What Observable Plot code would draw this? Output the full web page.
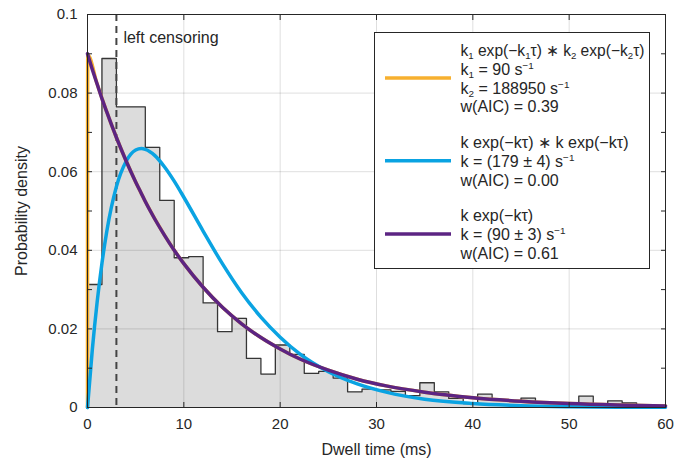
<!DOCTYPE html>
<html><head><meta charset="utf-8">
<script src="https://cdn.jsdelivr.net/npm/d3@7"></script>
<script src="https://cdn.jsdelivr.net/npm/@observablehq/plot@0.6"></script>
<style>body{margin:0;background:#fff;}</style>
</head><body><div id="chart"></div>
<script>
// ---- data ----
const binStart = [0,1.5,3,4.5,6,7.5,9,10.5,12,13.5,15,16.5,18,19.5,21,22.5,24,25.5,27,28.5,
                  30,31.5,33,34.5,36,37.5,39,40.5,42,43.5,45,46.5,48,49.5,51,52.5,54,55.5,57,58.5];
const binEnd = 60;
const binDensity = [0.0313,0.0888,0.0765,0.0765,0.0662,0.0527,0.0381,0.0384,0.0266,0.0193,
                    0.0227,0.0125,0.0085,0.0159,0.0135,0.0087,0.0092,0.0075,0.0040,0.0047,
                    0.0045,0.0041,0.0030,0.0063,0.0040,0.0023,0.0010,0.0034,0.0018,0.0016,
                    0.0024,0.0013,0.0010,0.0008,0.0029,0.0010,0.0017,0.0012,0.0006,0.0005];

const tCurve = [0,0.5,1,1.5,2,3,4,5,5.6,6,7,8,9,10,12,14,16,18,20,22,25,28,31,35,40,45,50,55,60];
const purpleDensity = [0.0900,0.0860,0.0823,0.0786,0.0752,0.0687,0.0628,0.0574,0.0544,0.0524,0.0479,0.0438,0.0400,0.0366,
                       0.0306,0.0255,0.0213,0.0178,0.0149,0.0124,0.0095,0.0072,0.0055,0.0039,0.0025,0.0016,0.0010,0.00064,0.00041];
const blueDensity = [0,0.0147,0.0268,0.0367,0.0448,0.0562,0.0626,0.0655,0.0659,0.0657,0.0641,0.0612,0.0576,0.0535,
                     0.0449,0.0366,0.0292,0.0230,0.0179,0.0137,0.0091,0.0060,0.0039,0.0021,0.0010,0.00046,0.00021,0.00009,0.00004];
const tOrange = [0,0.005,0.01,0.02,0.04,1,2,3,4,6,8,10,12,14,16,18,20,22,25,28,31,35,40,45,50,55,60];
const orangeDensity = [0,0.055,0.0765,0.088,0.0897,0.0823,0.0752,0.0687,0.0628,0.0524,0.0438,0.0366,0.0306,0.0255,
                       0.0213,0.0178,0.0149,0.0124,0.0095,0.0072,0.0055,0.0039,0.0025,0.0016,0.0010,0.00064,0.00041];

const censorTime = 3;
const censorLabel = "left censoring";
const xTicks = [0,10,20,30,40,50,60];
const yTicks = [0,0.02,0.04,0.06,0.08,0.1];
const yTickLabels = ["0","0.02","0.04","0.06","0.08","0.1"];
const xLabel = "Dwell time (ms)";
const yLabel = "Probability density";

const seriesColors = ["#f7b02f","#0aa3e2","#5c2483"];
const legendText = [
  ["k_{1} exp(\u2212k_{1}\u03c4) \u2217 k_{2} exp(\u2212k_{2}\u03c4)", "k_{1} = 90 s^{\u22121}", "k_{2} = 188950 s^{\u22121}", "w(AIC) = 0.39"],
  ["k exp(\u2212k\u03c4) \u2217 k exp(\u2212k\u03c4)", "k = (179 \u00b1 4) s^{\u22121}", "w(AIC) = 0.00"],
  ["k exp(\u2212k\u03c4)", "k = (90 \u00b1 3) s^{\u22121}", "w(AIC) = 0.61"]
];

// ---- derived tables ----
const histPts = binStart.map((x, i) => ({x, y: binDensity[i]}));
histPts.push({x: binEnd, y: binDensity[binDensity.length - 1]});
const outlinePts = [{x: binStart[0], y: 0}, ...histPts, {x: binEnd, y: 0}];
const purple = tCurve.map((t, i) => ({t, y: purpleDensity[i]}));
const blue = tCurve.map((t, i) => ({t, y: blueDensity[i]}));
const orange = tOrange.map((t, i) => ({t, y: orangeDensity[i]}));

const ink = "#262626";
const font = "'Liberation Sans', Arial, Helvetica, sans-serif";

const plot = Plot.plot({
  width: 687, height: 460,
  marginLeft: 87, marginRight: 22, marginTop: 14, marginBottom: 53,
  style: {fontFamily: font, fontSize: "15px", color: ink, background: "#fff", overflow: "visible"},
  x: {domain: [0, 60], ticks: xTicks},
  y: {domain: [0, 0.1], ticks: yTicks},
  marks: [
    Plot.areaY(histPts, {x: "x", y: "y", curve: "step-after", fill: "#dcdcdc"}),
    Plot.gridX({ticks: xTicks, stroke: "#000", strokeOpacity: 0.13}),
    Plot.gridY({ticks: yTicks, stroke: "#000", strokeOpacity: 0.13}),
    Plot.lineY(outlinePts, {x: "x", y: "y", curve: "step-after", stroke: "#363636", strokeWidth: 1.3}),
    Plot.ruleX([censorTime], {stroke: "#444", strokeWidth: 2, strokeDasharray: "7,5"}),
    Plot.line(orange, {x: "t", y: "y", curve: "monotone-x", stroke: seriesColors[0], strokeWidth: 3.5}),
    Plot.line(blue, {x: "t", y: "y", curve: "monotone-x", stroke: seriesColors[1], strokeWidth: 3.5}),
    Plot.line(purple, {x: "t", y: "y", curve: "monotone-x", stroke: seriesColors[2], strokeWidth: 3.5}),
    Plot.frame({stroke: ink, strokeWidth: 1}),
    // inward ticks on all four sides
    Plot.axisX({anchor: "bottom", tickSize: 5, dy: -5, fill: "none", stroke: ink, label: null}),
    Plot.axisX({anchor: "top", tickSize: 5, dy: 5, fill: "none", stroke: ink, label: null}),
    Plot.axisY({anchor: "left", tickSize: 5, dx: 5, fill: "none", stroke: ink, label: null}),
    Plot.axisY({anchor: "right", tickSize: 5, dx: -5, fill: "none", stroke: ink, label: null}),
    // tick labels
    Plot.axisX({anchor: "bottom", tickSize: 0, tickPadding: 11, fill: ink, label: null, fontSize: 15}),
    Plot.axisY({anchor: "left", tickSize: 0, tickPadding: 10, fill: ink, label: null, fontSize: 15,
                tickFormat: d => yTickLabels[yTicks.indexOf(d)]}),
    // axis titles
    Plot.text([xLabel], {frameAnchor: "bottom", dy: 42, lineAnchor: "middle", textAnchor: "middle", fontSize: 16, fill: ink}),
    Plot.text([yLabel], {frameAnchor: "left", dx: -66, rotate: -90, lineAnchor: "middle", textAnchor: "middle", fontSize: 16, fill: ink}),
    // censoring annotation
    Plot.text([censorLabel], {x: () => censorTime, frameAnchor: "top", dx: 7, dy: 23, lineAnchor: "middle", textAnchor: "start", fontSize: 16, fill: ink})
  ]
});

document.getElementById("chart").appendChild(plot);

// ---- legend (layout only) ----
function rich(textSel, str, size) {
  const re = /([_^])\{([^}]*)\}/g;
  let last = 0, m, pending = 0;
  const add = (s, opts) => {
    const ts = textSel.append("tspan").text(s);
    if (opts.size) ts.attr("font-size", opts.size);
    if (opts.dy) ts.attr("dy", opts.dy);
  };
  while ((m = re.exec(str))) {
    if (m.index > last) { add(str.slice(last, m.index), {dy: pending}); pending = 0; }
    const shift = m[1] === "_" ? 3 : -6;
    add(m[2], {size: size * 0.62, dy: shift + pending});
    pending = -shift;
    last = re.lastIndex;
  }
  if (last < str.length) add(str.slice(last), {dy: pending});
}

const svg = d3.select(plot);
const lg = svg.append("g").attr("font-family", font).attr("font-size", 16).attr("fill", ink).attr("text-anchor", "start");
const box = {x: 374.5, y: 32.5, w: 275, h: 236};
lg.append("rect").attr("x", box.x).attr("y", box.y).attr("width", box.w).attr("height", box.h)
  .attr("fill", "#fff").attr("stroke", ink).attr("stroke-width", 1);
const rowH = 18.8, groupGap = 35.6;
const rowWidths = {"0-0": 184, "1-0": 168};
let baseline = 56;
legendText.forEach((rows, gi) => {
  const first = baseline;
  rows.forEach((r, ri) => {
    const t = lg.append("text").attr("x", 460.5).attr("y", baseline).attr("text-anchor", "start");
    const w = rowWidths[gi + "-" + ri];
    if (w) t.attr("textLength", w).attr("lengthAdjust", "spacingAndGlyphs");
    rich(t, r, 16);
    if (ri < rows.length - 1) baseline += rowH;
  });
  const last = baseline;
  const midY = gi === 0 ? 78 : (first + last) / 2 - 6;
  lg.append("line").attr("x1", 385).attr("x2", 451).attr("y1", midY).attr("y2", midY)
    .attr("stroke", seriesColors[gi]).attr("stroke-width", 3.5);
  baseline += groupGap;
});
</script></body></html>
